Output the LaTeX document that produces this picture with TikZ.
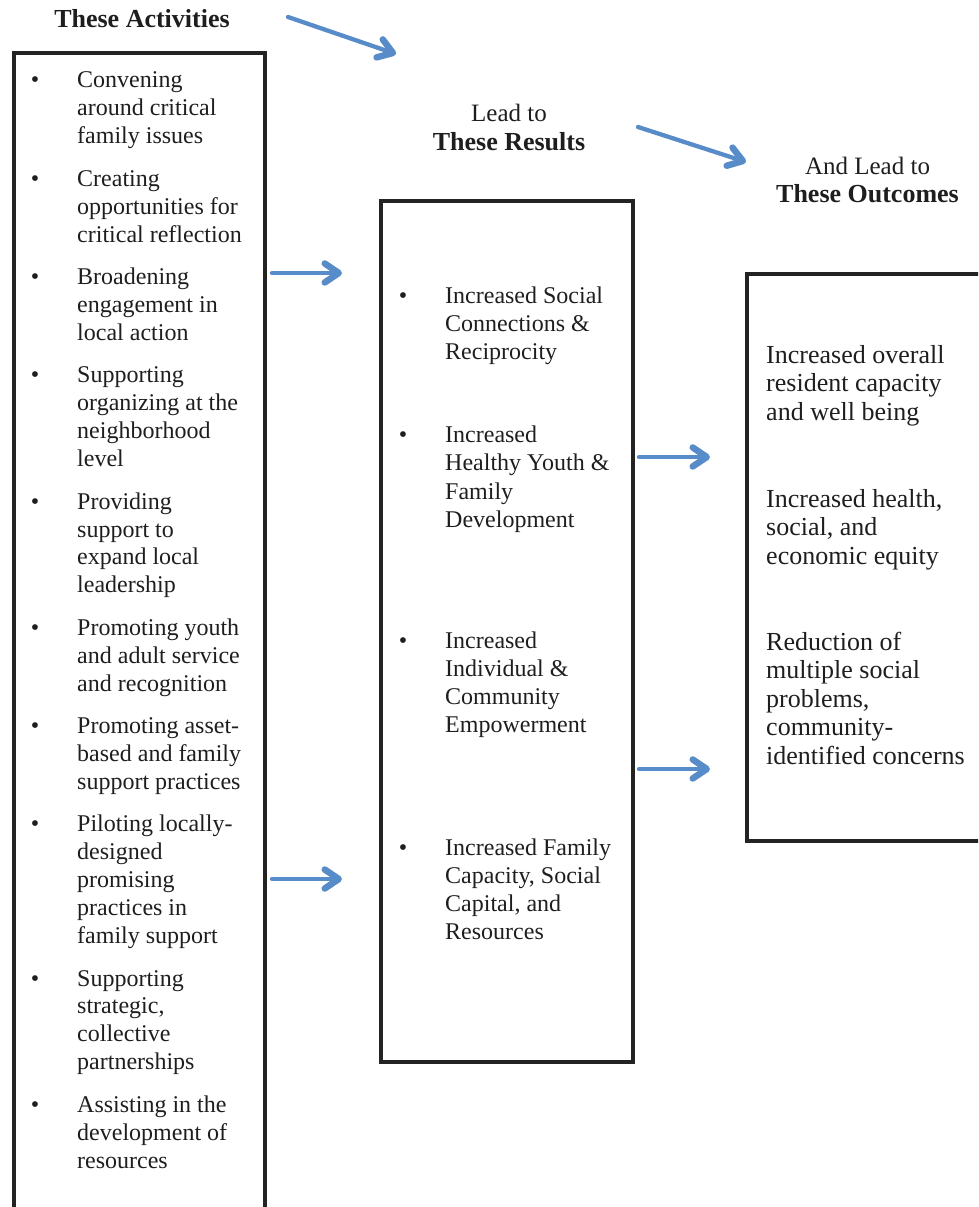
\documentclass[tikz,border=0pt]{standalone}
\usepackage{fontspec}
\setmainfont{Liberation Serif}
\usetikzlibrary{arrows.meta}
\definecolor{arrblue}{RGB}{88,140,200}
\definecolor{boxline}{RGB}{35,35,35}
\definecolor{txtcol}{RGB}{30,30,30}
\newcommand{\mkblk}[1]{\parbox[t]{240pt}{\raggedright #1}}
\newcommand{\mkhead}[1]{\parbox[t]{300pt}{\centering #1}}
\begin{document}
\begin{tikzpicture}[x=1pt,y=-1pt,
  box/.style={draw=boxline, line width=4pt},
  arr/.style={draw=arrblue, line width=4.3pt, line cap=round, line join=round,
              -{Straight Barb[length=14pt,width=19pt,line width=6.5pt,round]}},
  lbul/.style={anchor=base, inner sep=0pt, text=txtcol, font=\fontsize{24}{27.9}\selectfont},
  ltxt/.style={anchor=base west, inner sep=0pt, text=txtcol, font=\fontsize{24}{27.9}\selectfont},
  mtxt/.style={anchor=base west, inner sep=0pt, text=txtcol, font=\fontsize{24}{28.3}\selectfont},
  rtxt/.style={anchor=base west, inner sep=0pt, text=txtcol, font=\fontsize{26}{28.5}\selectfont},
  head/.style={anchor=base, inner sep=0pt, text=txtcol, font=\fontsize{26}{29}\selectfont}
]
\useasboundingbox (0,0) rectangle (978,1207);
\clip (0,0) rectangle (978,1207);

% boxes
\draw[box] (14,53) rectangle (265,1240);
\draw[box] (381,200.5) rectangle (633,1061.5);
\draw[box] (747,274) rectangle (1010,841);

% headings
\node[head] (hact) at (142,28) {\textbf{These Activities}};
\node[head] (hres) at (509,121) {\mkhead{\fontsize{25}{29}\selectfont Lead to\\\fontsize{26}{29}\selectfont\textbf{These Results}}};
\node[head] (hout) at (867.5,174) {\mkhead{\fontsize{25}{28}\selectfont And Lead to\\\fontsize{26}{28}\selectfont\textbf{These Outcomes}}};

% activities
\node[lbul] (b1) at (35,88) {•};
\node[ltxt] (t1) at (77,88) {\mkblk{Convening\\around critical\\family issues}};
\node[lbul] (b2) at (35,186.3) {•};
\node[ltxt] (t2) at (77,186.3) {\mkblk{Creating\\opportunities for\\critical reflection}};
\node[lbul] (b3) at (35,284.6) {•};
\node[ltxt] (t3) at (77,284.6) {\mkblk{Broadening\\engagement in\\local action}};
\node[lbul] (b4) at (35,382.9) {•};
\node[ltxt] (t4) at (77,382.9) {\mkblk{Supporting\\organizing at the\\neighborhood\\level}};
\node[lbul] (b5) at (35,509.1) {•};
\node[ltxt] (t5) at (77,509.1) {\mkblk{Providing\\support to\\expand local\\leadership}};
\node[lbul] (b6) at (35,635.3) {•};
\node[ltxt] (t6) at (77,635.3) {\mkblk{Promoting youth\\and adult service\\and recognition}};
\node[lbul] (b7) at (35,733.6) {•};
\node[ltxt] (t7) at (77,733.6) {\mkblk{Promoting asset-\\based and family\\support practices}};
\node[lbul] (b8) at (35,831.9) {•};
\node[ltxt] (t8) at (77,831.9) {\mkblk{Piloting locally-\\designed\\promising\\practices in\\family support}};
\node[lbul] (b9) at (35,986) {•};
\node[ltxt] (t9) at (77,986) {\mkblk{Supporting\\strategic,\\collective\\partnerships}};
\node[lbul] (b10) at (35,1112.2) {•};
\node[ltxt] (t10) at (77,1112.2) {\mkblk{Assisting in the\\development of\\resources}};

% results
\node[lbul] (rb1) at (403,303) {•};
\node[mtxt] (rs1) at (445,303) {\mkblk{Increased Social\\Connections \&\\Reciprocity}};
\node[lbul] (rb2) at (403,442.5) {•};
\node[mtxt] (rs2) at (445,442.5) {\mkblk{Increased\\Healthy Youth \&\\Family\\Development}};
\node[lbul] (rb3) at (403,648) {•};
\node[mtxt] (rs3) at (445,648) {\mkblk{Increased\\Individual \&\\Community\\Empowerment}};
\node[lbul] (rb4) at (403,855) {•};
\node[mtxt] (rs4) at (445,855) {\mkblk{Increased Family\\Capacity, Social\\Capital, and\\Resources}};

% outcomes
\node[rtxt] (o1) at (766,363) {\mkblk{Increased overall\\resident capacity\\and well being}};
\node[rtxt] (o2) at (766,507) {\mkblk{Increased health,\\social, and\\economic equity}};
\node[rtxt] (o3) at (766,650) {\mkblk{Reduction of\\multiple social\\problems,\\community-\\identified concerns}};

% arrows
\coordinate (a1s) at (288,17);  \coordinate (a1e) at (396,54);
\coordinate (a2s) at (638,127); \coordinate (a2e) at (746,162);
\coordinate (a3s) at (272,273); \coordinate (a3e) at (342,273);
\coordinate (a4s) at (272,879); \coordinate (a4e) at (342,879);
\coordinate (a5s) at (639,457); \coordinate (a5e) at (710,457);
\coordinate (a6s) at (639,769); \coordinate (a6e) at (710,769);
\draw[arr] (a1s) -- (a1e);
\draw[arr] (a2s) -- (a2e);
\draw[arr] (a3s) -- (a3e);
\draw[arr] (a4s) -- (a4e);
\draw[arr] (a5s) -- (a5e);
\draw[arr] (a6s) -- (a6e);
\end{tikzpicture}
\end{document}
